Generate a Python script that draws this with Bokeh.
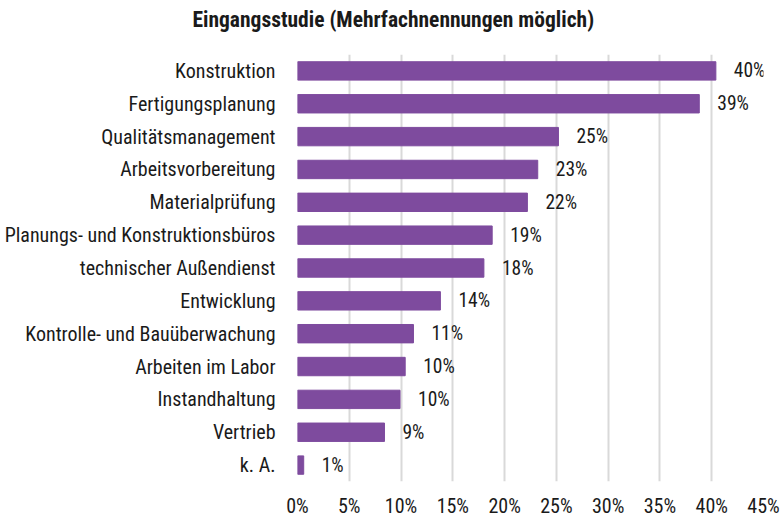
from bokeh.plotting import figure
from bokeh.models import FactorRange, Range1d, FixedTicker, PrintfTickFormatter, ColumnDataSource, Title
from bokeh.embed import file_html
from bokeh.resources import INLINE
from bokeh.core.properties import value

categories = ["Konstruktion", "Fertigungsplanung", "Qualitätsmanagement", "Arbeitsvorbereitung",
              "Materialprüfung", "Planungs- und Konstruktionsbüros", "technischer Außendienst",
              "Entwicklung", "Kontrolle- und Bauüberwachung", "Arbeiten im Labor",
              "Instandhaltung", "Vertrieb", "k. A."]
values = [40.4, 38.8, 25.2, 23.2, 22.2, 18.8, 18.0, 13.8, 11.2, 10.4, 9.9, 8.4, 0.6]
value_labels = ["40%", "39%", "25%", "23%", "22%", "19%", "18%", "14%", "11%", "10%", "10%", "9%", "1%"]
x_ticks = [0, 5, 10, 15, 20, 25, 30, 35, 40, 45]
title_text = "Eingangsstudie (Mehrfachnennungen möglich)"

FONT = "'Liberation Sans Narrow', 'Roboto Condensed', 'Arial Narrow', Roboto"
PURPLE = "#7e4b9e"

src = ColumnDataSource(dict(cat=categories, val=values, lab=value_labels))

p = figure(width=782, height=530, output_backend="svg", toolbar_location=None,
           y_range=FactorRange(*reversed(categories), range_padding=0),
           x_range=Range1d(0, 45),
           min_border_left=297, min_border_right=19, min_border_top=54, min_border_bottom=49)

p.hbar(y="cat", right="val", left=0, height=0.56, source=src, color=PURPLE, line_color=PURPLE)
p.text(x="val", y="cat", text="lab", source=src, x_offset=18, text_baseline="middle",
       text_align="left", text_font=value(FONT), text_font_size="19.5px", text_color="#1a1a1a")

# blank spacer between frame and title, then the title itself
p.add_layout(Title(text="\u00a0", text_font_size="19px", standoff=0), "above")
p.add_layout(Title(text=title_text, align="left", offset=-105, standoff=0,
                   text_font=FONT, text_font_size="21.5px", text_font_style="bold",
                   text_color="#1a1a1a"), "above")

p.xaxis.ticker = FixedTicker(ticks=x_ticks)
p.xaxis.formatter = PrintfTickFormatter(format="%d%%")
for ax in (p.xaxis, p.yaxis):
    ax.axis_line_color = None
    ax.major_tick_line_color = None
    ax.minor_tick_line_color = None
    ax.major_label_text_font = FONT
    ax.major_label_text_color = "#1a1a1a"
p.xaxis.major_label_text_font_size = "20px"
p.xaxis.major_label_standoff = 6
p.yaxis.major_label_text_font_size = "20px"
p.yaxis.major_label_standoff = 16

p.xgrid.ticker = FixedTicker(ticks=x_ticks)
p.xgrid.grid_line_color = "#d9d9d9"
p.xgrid.grid_line_width = 2
p.ygrid.grid_line_color = None
p.outline_line_color = None

open("out.html", "w").write(file_html(p, INLINE))
